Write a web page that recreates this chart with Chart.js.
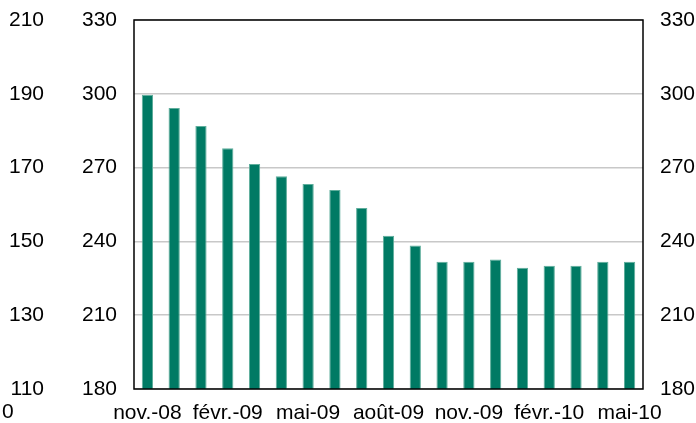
<!DOCTYPE html>
<html>
<head>
<meta charset="utf-8">
<script src="https://cdn.jsdelivr.net/npm/chart.js@4"></script>
<style>
  html, body { margin: 0; padding: 0; background: #fff; }
  #wrap { width: 696px; height: 423px; }
</style>
</head>
<body>
<div id="wrap"><canvas id="chart" width="696" height="423"></canvas></div>
<script>
(function () {
    "use strict";

    // data
    const months = [
        "nov.-08", "déc.-08", "janv.-09", "févr.-09", "mars-09", "avr.-09",
        "mai-09", "juin-09", "juil.-09", "août-09", "sept.-09", "oct.-09",
        "nov.-09", "déc.-09", "janv.-10", "févr.-10", "mars-10", "avr.-10", "mai-10"
    ];
    const values = [
        299.6, 294.2, 286.9, 277.9, 271.5, 266.5, 263.3, 260.9, 253.6, 242.3,
        238.3, 231.7, 231.7, 232.6, 229.3, 230.1, 230.1, 231.7, 231.7
    ];
    const outerTicks = [110, 130, 150, 170, 190, 210];
    const mainTicks = [180, 210, 240, 270, 300, 330];

    const font = { family: "'Liberation Sans', Arial, sans-serif", size: 21 };

    // plot frame + stray "0" under the outer axis
    const framePlugin = {
        id: "frame",
        afterDraw(chart) {
            const a = chart.chartArea;
            const ctx = chart.ctx;
            ctx.save();
            ctx.strokeStyle = "#000";
            ctx.lineWidth = 1.5;
            ctx.strokeRect(a.left, a.top, a.right - a.left, a.bottom - a.top);
            ctx.fillStyle = "#000";
            ctx.font = font.size + "px " + font.family;
            ctx.textAlign = "left";
            ctx.textBaseline = "middle";
            ctx.fillText("0", 2, 412);
            ctx.restore();
        }
    };

    new Chart(document.getElementById("chart").getContext("2d"), {
        type: "bar",
        data: {
            labels: months,
            datasets: [{
                data: values,
                yAxisID: "y",
                backgroundColor: "#007a64",
                borderColor: "#5fae9c",
                borderWidth: { top: 1, left: 1, right: 1, bottom: 0 },
                borderSkipped: false,
                categoryPercentage: 1,
                barPercentage: 0.42
            }]
        },
        options: {
            responsive: false,
            animation: false,
            layout: { padding: { top: 0, bottom: 0, left: 0, right: 0 } },
            plugins: {
                legend: { display: false },
                tooltip: { enabled: false }
            },
            scales: {
                x: {
                    grid: { display: false, drawTicks: false },
                    border: { display: false },
                    ticks: {
                        autoSkip: false,
                        maxRotation: 0,
                        padding: 12,
                        color: "#000",
                        font: font,
                        callback: function (v, i) { return i % 3 === 0 ? months[i] : ""; }
                    },
                    afterFit(s) { s.height = 34; }
                },
                outer: {
                    position: "left",
                    weight: 2,
                    min: outerTicks[0],
                    max: outerTicks[outerTicks.length - 1],
                    grid: { display: false, drawTicks: false },
                    border: { display: false },
                    afterBuildTicks(s) { s.ticks = outerTicks.map(v => ({ value: v })); },
                    ticks: { color: "#000", font: font, padding: 16 },
                    afterFit(s) { s.width = 60; s.paddingTop = 20; }
                },
                y: {
                    position: "left",
                    weight: 1,
                    min: 180,
                    max: 330,
                    grid: { color: "#c8c8c8", lineWidth: 1.5, drawTicks: false },
                    border: { display: false },
                    afterBuildTicks(s) { s.ticks = mainTicks.map(v => ({ value: v })); },
                    ticks: { color: "#000", font: font, padding: 17 },
                    afterFit(s) { s.width = 74; s.paddingTop = 20; }
                },
                right: {
                    position: "right",
                    min: 180,
                    max: 330,
                    grid: { display: false, drawTicks: false },
                    border: { display: false },
                    afterBuildTicks(s) { s.ticks = mainTicks.map(v => ({ value: v })); },
                    ticks: { color: "#000", font: font, padding: 17 },
                    afterFit(s) { s.width = 53; s.paddingTop = 20; }
                }
            }
        },
        plugins: [framePlugin]
    });
})();
</script>
</body>
</html>
